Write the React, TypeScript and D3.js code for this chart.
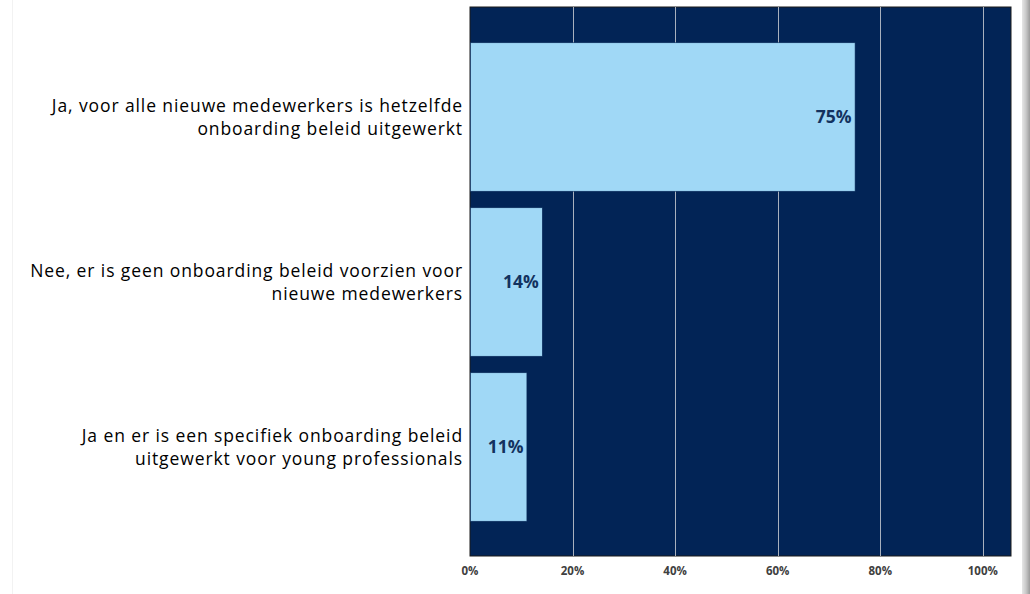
import React from "react";
import * as d3 from "d3";

const categories: string[][] = [
  ["Ja, voor alle nieuwe medewerkers is hetzelfde", "onboarding beleid uitgewerkt"],
  ["Nee, er is geen onboarding beleid voorzien voor", "nieuwe medewerkers"],
  ["Ja en er is een specifiek onboarding beleid", "uitgewerkt voor young professionals"],
];
const values: number[] = [75, 14, 11];
const ticks: number[] = [0, 20, 40, 60, 80, 100];

const W = 1030;
const H = 594;
const plot = { left: 470, right: 1011, top: 7, bottom: 556 };

export default function App() {
  const x = d3.scaleLinear().domain([0, 105.5]).range([plot.left, plot.right]);
  const keys = categories.map((_, i) => String(i));
  const y = d3
    .scaleBand<string>()
    .domain(keys)
    .range([34.5, 529.5])
    .paddingInner(0.1)
    .paddingOuter(0.05);

  return (
    <svg
      width={W}
      height={H}
      style={{ position: "absolute", left: 0, top: 0, fontFamily: "'Open Sans', Lato, sans-serif" }}
    >
      <defs>
        <linearGradient id="shadow" x1="0" x2="1" y1="0" y2="0">
          <stop offset="0" stopColor="#e6e6e6" />
          <stop offset="0.5" stopColor="#c8c8c8" />
          <stop offset="1" stopColor="#9a9a9a" />
        </linearGradient>
      </defs>
      <rect x={0} y={0} width={W} height={H} fill="#ffffff" />
      <rect x={1022} y={0} width={8} height={H} fill="url(#shadow)" />
      <line x1={12.5} x2={12.5} y1={0} y2={H} stroke="#f2f2f2" strokeWidth={1} />
      <rect
        x={plot.left}
        y={plot.top}
        width={plot.right - plot.left}
        height={plot.bottom - plot.top}
        fill="#022456"
        stroke="#1b1b1b"
        strokeWidth={1}
      />
      {ticks.slice(1).map((t) => (
        <line
          key={t}
          x1={Math.round(x(t)) + 0.5}
          x2={Math.round(x(t)) + 0.5}
          y1={plot.top}
          y2={plot.bottom}
          stroke="#a8b0bd"
          strokeWidth={1}
        />
      ))}
      {values.map((v, i) => {
        const by = y(String(i))!;
        const bh = y.bandwidth();
        return (
          <g key={i}>
            <rect
              x={x(0) + 0.5}
              y={by}
              width={x(v) - x(0)}
              height={bh}
              fill="#a0d8f6"
              stroke="#0a2a5a"
              strokeWidth={0.6}
            />
            <text
              x={x(v) - 3}
              y={by + bh / 2}
              dy="0.35em"
              textAnchor="end"
              fontSize={17.5}
              fontWeight={700}
              fill="#13325f"
            >
              {v}%
            </text>
            <text
              x={463}
              y={by + bh / 2}
              textAnchor="end"
              fontSize={17.5}
              letterSpacing={0.9}
              fill="#000000"
            >
              {categories[i].map((line, j) => (
                <tspan key={j} x={463} dy={j === 0 ? "-0.3em" : "1.33em"}>
                  {line}
                </tspan>
              ))}
            </text>
          </g>
        );
      })}
      {ticks.map((t) => (
        <text
          key={t}
          x={x(t)}
          y={575}
          textAnchor="middle"
          fontSize={11.5}
          fontWeight={700}
          fill="#404040"
        >
          {t}%
        </text>
      ))}
    </svg>
  );
}
